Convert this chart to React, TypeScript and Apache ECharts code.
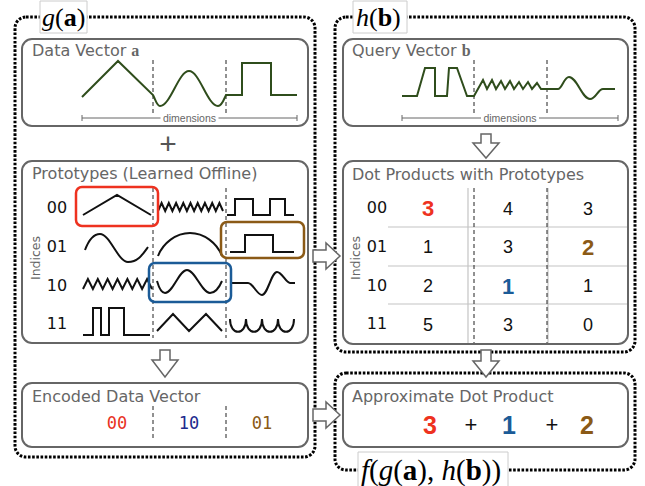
import React, { useEffect, useRef } from "react";
import * as echarts from "echarts";

// ---- data ----
const indexLabels = ["00", "01", "10", "11"];
const dotProducts = [
  [3, 4, 3],
  [1, 3, 2],
  [2, 1, 1],
  [5, 3, 0],
];
const encodedCodes = ["00", "10", "01"];
const chosenRows = encodedCodes.map((c) => indexLabels.indexOf(c));
const approxTerms = chosenRows.map((r, c) => dotProducts[r][c]);
const highlightColors = ["#ee3220", "#1b5b97", "#8b5a16"];
const codeColors = ["#e8331f", "#1e2b8e", "#8b5a16"];

// ---- waveform decoration paths ----
function zig(x0: number, x1: number, n: number, yLow: number, yHigh: number) {
  const p = (x1 - x0) / n;
  let s = `M${x0},${yLow}`;
  for (let i = 0; i < n; i++) {
    s += ` L${(x0 + (i + 0.5) * p).toFixed(1)},${yHigh} L${(x0 + (i + 1) * p).toFixed(1)},${yLow}`;
  }
  return s;
}

const greenD = [
  "M82,97 L118,61 L153,95 C156,101 157,106 160,106 C170.5,106 178.5,71 189,71 C199.5,71 207.5,106 218,106 C222,106 224,99 226,95 L242,95 L242,63 L271,63 L271,95 L297,95",
  "M402,96 L417,96 L425,68 L435,68 L435,96 L447,96 L449,68 L457,68 L467,96 L474,96 L483,80 L487,89 L492,80 L496,89 L501,81 L505,89 L510,81 L514,89 L519,82 L523,89 L528,82 L532,89 L537,83 L541,89 L547,89 L558,89 C562,89 564,77 569,77 C577,77 582,99 590,99 C596,99 598,89 603,89 L615,89",
].join(" ");

const blackD = [
  "M83,215 L117,195 L151,215",
  zig(158, 223, 9, 211, 203),
  "M227,215 L235,215 L235,199 L253,199 L253,215 L270,215 L270,199 L285,199 L285,215 L294,215",
  "M85,250 C88,242 93,234 100,234 C110,234 118,262 128,262 C138,262 143,254 148,247",
  "M158,256 C163,243 176,233 190,233 C204,233 217,243 222,256",
  "M230,252 L245,252 L245,235 L273,235 L273,252 L294,252",
  zig(83, 152, 7, 289, 279),
  "M157,281 C159,288 161,293 165,293 C173,293 179,270 187,270 C195,270 202,293 210,293 C215,293 219,288 222,281",
  "M231,283 L248,283 C253,283 257,295 262,295 C267.5,295 271.5,272 277,272 C282,272 286,283 290,283 L295,283",
  "M83,335 L93,335 L93,308 L101,308 L101,335 L109,335 L109,308 L124,308 L124,335 L150,335",
  "M157,331 L173,314 L189,331 L206,314 L222,331",
  "M230,319 C230,336 246,336 246,319 C246,336 262,336 262,319 C262,336 278,336 278,319 C278,336 294,336 294,319",
].join(" ");

echarts.graphic.registerShape("wavesGreen", echarts.graphic.extendPath(greenD, {}));
echarts.graphic.registerShape("wavesBlack", echarts.graphic.extendPath(blackD, {}));

const SANS = '"DejaVu Sans"';
const ARIAL = '"Liberation Sans"';
const SERIF = '"Liberation Serif"';

function txt(x: number, y: number, text: string, opts: any = {}) {
  return {
    type: "text",
    x,
    y,
    z: opts.z ?? 10,
    rotation: opts.rotation ?? 0,
    style: {
      text,
      fill: opts.fill ?? "#666",
      fontSize: opts.size ?? 16,
      fontFamily: opts.family ?? SANS,
      fontWeight: opts.weight ?? "normal",
      align: opts.align ?? "left",
      verticalAlign: "middle",
      rich: opts.rich,
    },
  };
}

function dotted(x: number, y: number, w: number, h: number) {
  return {
    type: "rect",
    shape: { x, y, width: w, height: h, r: 11 },
    z: 1,
    style: { fill: "none", stroke: "#000", lineWidth: 3, lineDash: [2.6, 1.6] },
  };
}

function panel(x: number, y: number, w: number, h: number) {
  return {
    type: "rect",
    shape: { x, y, width: w, height: h, r: 10 },
    z: 3,
    style: { fill: "#fff", stroke: "#666", lineWidth: 2 },
  };
}

function dash(x: number, y1: number, y2: number) {
  return {
    type: "line",
    z: 6,
    shape: { x1: x, y1, x2: x, y2 },
    style: { stroke: "#222", lineWidth: 1, lineDash: [4, 3] },
  };
}

function downArrow(cx: number, y0: number, y1: number, y2: number) {
  const sw = 5, hw = 13;
  return {
    type: "polygon",
    z: 8,
    shape: {
      points: [
        [cx - sw, y0], [cx + sw, y0], [cx + sw, y1], [cx + hw, y1],
        [cx, y2], [cx - hw, y1], [cx - sw, y1],
      ],
    },
    style: { fill: "#fff", stroke: "#666", lineWidth: 1.5 },
  };
}

function rightArrow(cy: number, x0: number, x1: number, x2: number) {
  const sw = 6, hw = 13;
  return {
    type: "polygon",
    z: 8,
    shape: {
      points: [
        [x0, cy - sw], [x1, cy - sw], [x1, cy - hw], [x2, cy],
        [x1, cy + hw], [x1, cy + sw], [x0, cy + sw],
      ],
    },
    style: { fill: "#fff", stroke: "#666", lineWidth: 1.5 },
  };
}

function labelBox(x: number, y: number, w: number, h: number) {
  return {
    type: "rect",
    z: 4,
    shape: { x, y, width: w, height: h },
    style: { fill: "#fff", stroke: "#ccc", lineWidth: 1 },
  };
}

const mathRich = (size: number) => ({
  i: { fontFamily: SERIF, fontStyle: "italic", fontSize: size, fill: "#000" },
  r: { fontFamily: SERIF, fontSize: size, fill: "#000" },
  b: { fontFamily: SERIF, fontWeight: "bold", fontSize: size, fill: "#000" },
});

function dimensionRuler(x0: number, x1: number, y: number) {
  const mid = (x0 + x1) / 2;
  const gap = 29;
  const st = { stroke: "#666", lineWidth: 1 };
  return [
    { type: "line", z: 6, shape: { x1: x0, y1: y, x2: mid - gap, y2: y }, style: st },
    { type: "line", z: 6, shape: { x1: mid + gap, y1: y, x2: x1, y2: y }, style: st },
    { type: "line", z: 6, shape: { x1: x0, y1: y - 3, x2: x0, y2: y + 3 }, style: st },
    { type: "line", z: 6, shape: { x1: x1, y1: y - 3, x2: x1, y2: y + 3 }, style: st },
    txt(mid, y, "dimensions", { size: 10.5, family: ARIAL, align: "center", fill: "#666" }),
  ];
}

const rowY = [207.5, 246, 285, 323.5];
const protoColX = [117, 189, 262];
const dpColX = [428, 508, 588];

function buildElements() {
  const els: any[] = [];
  // outer dotted groups
  els.push(dotted(15, 17, 300, 440));
  els.push(dotted(335, 17, 300, 335));
  els.push(dotted(335, 373, 300, 97));
  // label boxes
  els.push(labelBox(40, 1, 47, 32));
  els.push(txt(42, 17, "{i|g}{r|(}{b|a}{r|)}", { rich: mathRich(26), z: 5 }));
  els.push(labelBox(353, 1, 54, 32));
  els.push(txt(356, 17, "{i|h}{r|(}{b|b}{r|)}", { rich: mathRich(26), z: 5 }));
  els.push(labelBox(358, 452, 150, 40));
  els.push(
    txt(361, 470, "{i|f}{r|(}{i|g}{r|(}{b|a}{r|), }{i|h}{r|(}{b|b}{r|))}", { rich: mathRich(29), z: 5 })
  );

  // left panels
  els.push(panel(22, 39, 286, 87));
  els.push(panel(22, 161, 286, 182));
  els.push(panel(22, 383, 286, 64));
  // right panels
  els.push(panel(343, 39, 285, 87));
  els.push(panel(343, 161, 285, 183));
  els.push(panel(343, 383, 285, 64));

  // titles
  const tRich = {
    t: { fontFamily: SANS, fontSize: 16, fill: "#666" },
    m: { fontFamily: SERIF, fontWeight: "bold", fontSize: 16, fill: "#666" },
  };
  els.push(txt(32, 50, "{t|Data Vector }{m|a}", { rich: tRich }));
  els.push(txt(352, 50, "{t|Query Vector }{m|b}", { rich: tRich }));
  els.push(txt(32, 173, "Prototypes (Learned Offline)"));
  els.push(txt(352, 174, "Dot Products with Prototypes"));
  els.push(txt(32, 396, "Encoded Data Vector"));
  els.push(txt(352, 396, "Approximate Dot Product"));

  // data vector & query vector
  els.push(dash(153, 60, 113), dash(226, 60, 113));
  els.push(dash(474, 60, 113), dash(547, 60, 113));
  els.push({ type: "wavesGreen", z: 7, style: { fill: "none", stroke: "#2f4d1c", lineWidth: 2 } });
  els.push(...dimensionRuler(82, 297, 118));
  els.push(...dimensionRuler(402, 618, 118));

  // plus sign
  els.push(txt(168, 143, "+", { size: 30, family: ARIAL, fill: "#555", align: "center" }));

  // prototypes
  els.push(dash(153, 188, 338), dash(226, 188, 338));
  els.push(txt(35, 258, "Indices", { size: 12.5, rotation: Math.PI / 2, align: "center" }));
  els.push(txt(355, 258, "Indices", { size: 12.5, rotation: Math.PI / 2, align: "center" }));
  indexLabels.forEach((lab, i) => {
    els.push(txt(57, rowY[i], lab, { align: "center", fill: "#111" }));
    els.push(txt(377, rowY[i], lab, { align: "center", fill: "#111" }));
  });
  els.push({ type: "wavesBlack", z: 7, style: { fill: "none", stroke: "#111", lineWidth: 2 } });
  // highlight boxes around chosen prototypes
  const hlBoxes = [
    { x: 76, y: 187, w: 82, h: 39 },
    { x: 149, y: 263, w: 82, h: 39 },
    { x: 221, y: 222, w: 83, h: 36 },
  ];
  hlBoxes.forEach((b, c) => {
    els.push({
      type: "rect",
      z: 9,
      shape: { x: b.x, y: b.y, width: b.w, height: b.h, r: 6 },
      style: { fill: "none", stroke: highlightColors[c], lineWidth: 2.5 },
    });
  });

  // encoded data vector
  els.push(dash(153, 406, 440), dash(226, 406, 440));
  encodedCodes.forEach((code, c) => {
    els.push(
      txt(protoColX[c], 423, code, { align: "center", fill: codeColors[c], family: '"DejaVu Sans Mono"', size: 17 })
    );
  });

  // dot product table
  const grid = { stroke: "#c4c4c4", lineWidth: 1.2 };
  [468, 548].forEach((x) =>
    els.push({ type: "line", z: 5, shape: { x1: x, y1: 188, x2: x, y2: 343 }, style: grid })
  );
  [227, 266, 304].forEach((y) =>
    els.push({ type: "line", z: 5, shape: { x1: 388, y1: y, x2: 627, y2: y }, style: grid })
  );
  els.push(dash(474, 188, 343), dash(547, 188, 343));
  dotProducts.forEach((row, r) => {
    row.forEach((v, c) => {
      const hl = chosenRows[c] === r;
      els.push(
        txt(dpColX[c], rowY[r] + 1, String(v), {
          align: "center",
          family: ARIAL,
          size: hl ? 22 : 18,
          weight: hl ? "bold" : "normal",
          fill: hl ? highlightColors[c] : "#111",
        })
      );
    });
  });

  // approximate dot product
  const apX = [430, 509, 587];
  const plusX = [471, 552];
  approxTerms.forEach((v, c) => {
    els.push(
      txt(apX[c], 425, String(v), { align: "center", family: ARIAL, size: 25, weight: "bold", fill: highlightColors[c] })
    );
  });
  plusX.forEach((x) => els.push(txt(x, 424, "+", { align: "center", family: ARIAL, size: 22, fill: "#111" })));

  // arrows
  els.push(downArrow(165, 350, 360, 377));
  els.push(downArrow(486, 134, 143, 158));
  els.push(downArrow(486, 350, 361, 377));
  els.push(rightArrow(256, 313, 326, 340));
  els.push(rightArrow(415, 313, 326, 340));

  return els;
}

export default function App() {
  const ref = useRef<HTMLDivElement>(null);
  useEffect(() => {
    if (!ref.current) return;
    const chart = echarts.init(ref.current, null, { renderer: "svg" });
    chart.setOption({
      animation: false,
      backgroundColor: "#fff",
      graphic: { elements: buildElements() },
    });
    return () => chart.dispose();
  }, []);
  return (
    <div
      ref={ref}
      style={{ position: "fixed", left: 0, top: 0, width: 645, height: 486, background: "#fff" }}
    />
  );
}
